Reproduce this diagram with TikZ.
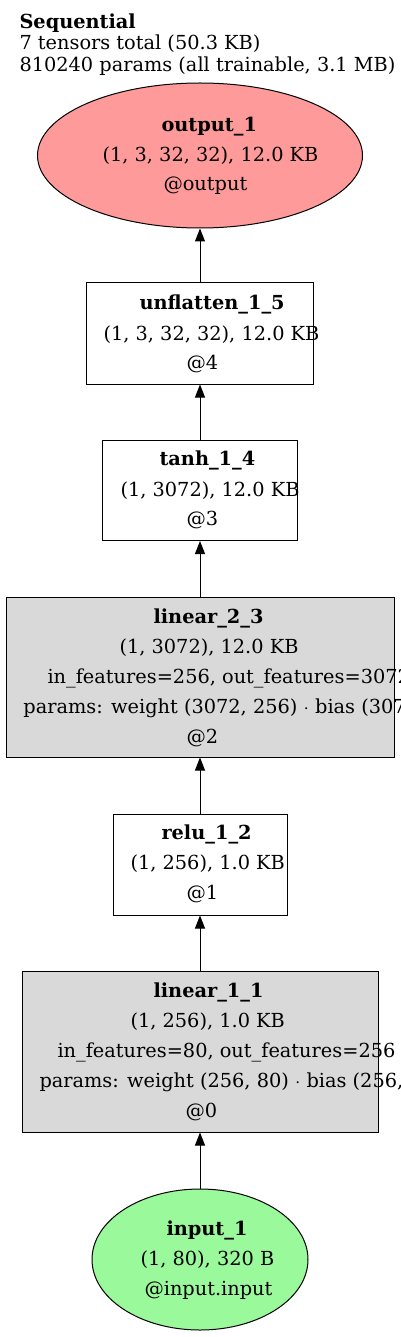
\documentclass[tikz,border=0pt]{standalone}
\usepackage{fontspec}
\setmainfont{DejaVu Serif}
\usepackage{tikz}
\usetikzlibrary{positioning, shapes.geometric, arrows.meta}
\newlength{\px}
\setlength{\px}{0.75pt}
\definecolor{outred}{HTML}{FF9A9A}
\definecolor{ingreen}{HTML}{9AF99A}
\definecolor{laygray}{HTML}{D9D9D9}
\newcommand{\lblfont}{\fontsize{14.5}{16}\selectfont}

\begin{document}
\begin{tikzpicture}[x=0.75pt, y=-0.75pt, line width=0.75pt,
    txt/.style={anchor=base west, inner sep=0pt, font=\lblfont},
    btxt/.style={anchor=base west, inner sep=0pt, font=\lblfont\bfseries},
    plainbox/.style={draw, fill=white, inner sep=0pt},
    graybox/.style={draw, fill=laygray, inner sep=0pt},
    flow/.style={-{Triangle[length=9.75pt, width=7.5pt]}}]

    \useasboundingbox (0,0) rectangle (400,1337);

    % Summary text at the top
    \node[btxt] (title) at (19,28.5) {Sequential};
    \node[txt] (tensors) at (19,50) {7 tensors total (50.3 KB)};
    \node[txt] (params) at (19,71.7) {810240 params (all trainable, 3.1 MB)};

    % Output ellipse
    \node[ellipse, draw, fill=outred, inner sep=0pt,
          minimum width=325\px, minimum height=145\px] (out1) at (200,155.5) {};
    \node[btxt] (out1-a) at (161,132) {output\_1};
    \node[txt] (out1-b) at (102,162) {(1, 3, 32, 32), 12.0 KB};
    \node[txt] (out1-c) at (163,191) {@output};

    % Unflatten layer
    \node[plainbox, minimum width=227\px, minimum height=101\px] (unfl) at (200,333.5) {};
    \node[btxt] (unfl-a) at (139,310) {unflatten\_1\_5};
    \node[txt] (unfl-b) at (103,340) {(1, 3, 32, 32), 12.0 KB};
    \node[txt] (unfl-c) at (186,369) {@4};

    % Tanh layer
    \node[plainbox, minimum width=195\px, minimum height=100\px] (tanh) at (200,490.5) {};
    \node[btxt] (tanh-a) at (159,465) {tanh\_1\_4};
    \node[txt] (tanh-b) at (120,496) {(1, 3072), 12.0 KB};
    \node[txt] (tanh-c) at (186,525) {@3};

    % Second linear layer
    \node[graybox, minimum width=388\px, minimum height=160\px] (lin23) at (200,677) {};
    \node[btxt] (lin23-a) at (153,623) {linear\_2\_3};
    \node[txt] (lin23-b) at (119,653) {(1, 3072), 12.0 KB};
    \node[txt] (lin23-c) at (47,683) {in\_features=256, out\_features=3072};
    \node[txt] (lin23-d) at (23,713) {params: weight (3072, 256) $\cdot$ bias (3072,)};
    \node[txt] (lin23-e) at (186,743) {@2};

    % ReLU layer
    \node[plainbox, minimum width=174\px, minimum height=101\px] (relu) at (200,864.5) {};
    \node[btxt] (relu-a) at (161,839) {relu\_1\_2};
    \node[txt] (relu-b) at (130,869) {(1, 256), 1.0 KB};
    \node[txt] (relu-c) at (186,899) {@1};

    % First linear layer
    \node[graybox, minimum width=356\px, minimum height=161\px] (lin11) at (200,1051.5) {};
    \node[btxt] (lin11-a) at (153,997) {linear\_1\_1};
    \node[txt] (lin11-b) at (130,1027) {(1, 256), 1.0 KB};
    \node[txt] (lin11-c) at (57,1057) {in\_features=80, out\_features=256};
    \node[txt] (lin11-d) at (39,1087) {params: weight (256, 80) $\cdot$ bias (256,)};
    \node[txt] (lin11-e) at (185,1117) {@0};

    % Input ellipse
    \node[ellipse, draw, fill=ingreen, inner sep=0pt,
          minimum width=216\px, minimum height=141\px] (in1) at (200,1259.5) {};
    \node[btxt] (in1-a) at (166,1235) {input\_1};
    \node[txt] (in1-b) at (140,1265) {(1, 80), 320 B};
    \node[txt] (in1-c) at (144,1295) {@input.input};

    % Data flow, bottom to top
    \draw[flow] (in1.north) -- (lin11.south);
    \draw[flow] (lin11.north) -- (relu.south);
    \draw[flow] (relu.north) -- (lin23.south);
    \draw[flow] (lin23.north) -- (tanh.south);
    \draw[flow] (tanh.north) -- (unfl.south);
    \draw[flow] (unfl.north) -- (out1.south);

\end{tikzpicture}
\end{document}
